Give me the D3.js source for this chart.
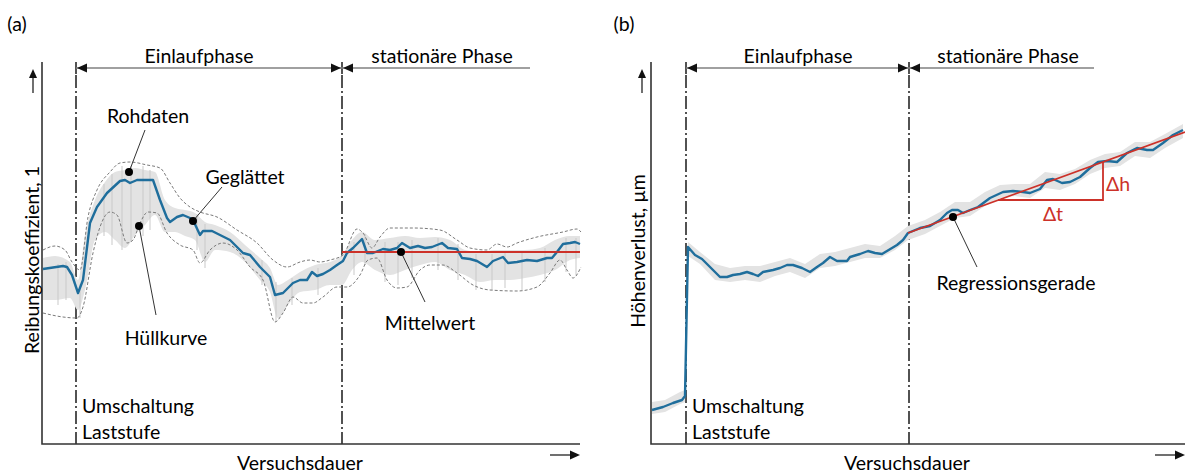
<!DOCTYPE html>
<html><head><meta charset="utf-8">
<script src="https://cdn.jsdelivr.net/npm/d3@7/dist/d3.min.js"></script>
<style>body{margin:0;background:#fff}svg text{font-family:Lato,"Open Sans",sans-serif;fill:#000}</style>
</head><body><svg id="c" width="1185" height="472"></svg>
<script>
// ---------- DATA (time t, value v) ----------
// Panel (a): friction coefficient
const frictionSmooth = [[0.1,1.75],[2.1,1.78],[2.5,1.77],[3.0,1.69],[3.6,1.51],[4.1,1.64],[4.8,2.21],[5.5,2.37],[6.5,2.51],[7.8,2.63],[8.3,2.64],[8.8,2.61],[9.5,2.64],[11.1,2.64],[11.8,2.44],[12.5,2.26],[12.8,2.22],[13.5,2.27],[14.1,2.29],[14.8,2.26],[15.1,2.24],[15.8,2.09],[16.1,2.13],[17.0,2.13],[18.8,2.04],[20.1,1.91],[20.8,1.89],[21.8,1.77],[22.8,1.67],[23.3,1.49],[24.1,1.51],[25.1,1.61],[25.8,1.64],[26.5,1.64],[27.0,1.72],[27.5,1.68],[28.1,1.70],[28.8,1.74],[29.5,1.79],[30.1,1.83],[30.5,1.91],[31.1,1.96],[32.0,2.05],[32.5,1.91],[33.1,1.91],[34.1,1.95],[34.8,1.94],[35.5,1.96],[36.0,2.01],[36.8,1.96],[37.6,1.98],[38.3,1.96],[39.0,1.97],[40.0,2.01],[40.6,1.96],[41.5,1.95],[42.0,1.86],[42.8,1.85],[43.5,1.83],[44.5,1.77],[45.1,1.83],[46.1,1.87],[46.6,1.81],[47.5,1.82],[48.5,1.84],[49.5,1.83],[50.5,1.86],[51.0,1.86],[51.5,1.92],[52.1,2.00],[52.8,2.01],[53.3,2.02],[53.8,2.00]];
const frictionUpper = [[0.1,1.94],[1.3,1.98],[2.3,1.94],[3.0,1.82],[3.8,1.74],[4.6,2.27],[5.5,2.54],[6.8,2.72],[7.8,2.81],[8.8,2.82],[10.5,2.79],[11.8,2.76],[12.8,2.61],[13.8,2.46],[14.8,2.37],[15.8,2.32],[17.5,2.27],[19.5,2.14],[21.5,2.01],[23.1,1.84],[24.5,1.77],[25.8,1.82],[26.8,1.84],[27.8,1.82],[28.8,1.84],[30.1,1.89],[31.5,2.15],[32.1,2.11],[33.0,1.96],[33.8,2.07],[34.8,2.16],[37.1,2.16],[39.8,2.14],[41.5,2.04],[42.8,1.96],[44.5,1.94],[45.5,2.00],[46.5,1.97],[47.5,2.01],[49.5,2.07],[52.1,2.12],[53.5,2.15],[53.9,2.12]];
const frictionLower = [[0.1,1.31],[2.1,1.27],[3.5,1.26],[4.1,1.37],[5.1,1.91],[5.8,2.17],[6.8,2.32],[7.5,2.29],[8.5,2.01],[9.1,2.04],[9.8,2.21],[10.6,2.32],[11.5,2.31],[12.5,2.11],[13.8,1.99],[15.1,1.94],[15.8,1.81],[16.8,1.94],[18.1,2.01],[19.5,1.94],[20.8,1.77],[22.1,1.64],[23.3,1.22],[24.1,1.31],[25.1,1.47],[26.1,1.41],[27.1,1.41],[28.1,1.47],[29.5,1.57],[30.5,1.57],[31.8,1.69],[32.6,1.84],[33.5,1.86],[34.5,1.64],[35.5,1.56],[36.5,1.57],[37.8,1.74],[38.8,1.79],[40.1,1.79],[41.5,1.71],[43.1,1.59],[44.8,1.54],[47.5,1.53],[49.5,1.57],[50.8,1.71],[51.8,1.84],[52.5,1.74],[53.1,1.66],[53.9,1.77]];
// raw data band [t, min, max]
const frictionRaw = [[0.1,1.44,1.86],[1.3,1.44,1.88],[2.8,1.46,1.82],[3.6,1.34,1.64],[4.3,1.54,2.09],[5.3,2.04,2.44],[6.3,2.12,2.62],[7.3,2.04,2.72],[8.3,1.96,2.74],[9.3,2.09,2.76],[10.3,2.19,2.74],[11.3,2.29,2.72],[12.3,2.12,2.44],[13.3,2.12,2.36],[14.3,2.08,2.34],[15.3,2.04,2.31],[16.3,1.82,2.22],[17.3,1.94,2.19],[18.8,1.92,2.12],[20.3,1.82,1.99],[21.8,1.64,1.86],[22.8,1.52,1.76],[23.6,1.26,1.59],[24.6,1.39,1.64],[25.8,1.52,1.72],[27.3,1.54,1.79],[28.8,1.59,1.82],[30.0,1.59,1.89],[31.0,1.74,2.04],[32.0,1.82,2.12],[33.3,1.74,2.04],[34.8,1.69,2.06],[36.3,1.74,2.08],[37.8,1.79,2.06],[39.3,1.82,2.07],[40.8,1.74,2.04],[42.3,1.69,1.94],[43.8,1.62,1.92],[45.3,1.64,1.94],[46.8,1.64,1.94],[48.3,1.66,1.94],[49.8,1.69,1.96],[51.3,1.74,2.04],[52.8,1.84,2.08],[53.8,1.86,2.08]];
// raw data spikes [t, min, max]
const frictionSpikes = [[1.6,1.39,1.80],[2.4,1.44,1.82],[3.8,1.26,1.60],[6.2,2.08,2.60],[7.0,1.99,2.70],[8.0,1.94,2.78],[8.9,2.02,2.78],[10.1,2.08,2.78],[10.8,2.14,2.74],[15.5,1.94,2.30],[16.3,1.76,2.20],[22.0,1.59,1.84],[23.4,1.22,1.62],[25.0,1.39,1.66],[27.6,1.49,1.76],[31.2,1.69,2.02],[32.3,1.79,2.10],[34.3,1.62,2.02],[35.6,1.59,2.02],[37.0,1.66,2.04],[39.6,1.74,2.06],[41.6,1.64,2.00],[43.4,1.54,1.90],[45.0,1.54,1.90],[46.3,1.56,1.92],[48.0,1.54,1.92],[50.3,1.62,1.96],[52.4,1.72,2.06],[53.4,1.69,2.06]];
const frictionMean = [[30.0,1.92],[53.8,1.92]];
const phasesA = [3.4, 30.0, 48.8];

// Panel (b): height loss
const wearSmooth = [[0.1,0.34],[1.2,0.37],[2.2,0.41],[3.1,0.44],[3.4,0.48],[3.7,1.97],[4.4,1.89],[5.1,1.85],[5.9,1.77],[6.9,1.67],[7.6,1.67],[8.2,1.69],[8.9,1.70],[9.6,1.72],[10.2,1.70],[10.7,1.68],[11.2,1.72],[12.2,1.74],[12.9,1.76],[13.6,1.79],[14.2,1.79],[15.1,1.76],[15.9,1.72],[16.6,1.77],[17.2,1.81],[17.9,1.87],[18.6,1.83],[19.6,1.83],[19.9,1.87],[20.9,1.90],[21.7,1.93],[22.4,1.91],[23.1,1.90],[23.6,1.93],[24.6,1.99],[25.2,2.04],[25.7,2.11],[26.9,2.16],[27.9,2.18],[28.9,2.24],[29.6,2.31],[30.1,2.34],[30.7,2.34],[31.2,2.31],[31.9,2.34],[32.7,2.37],[33.9,2.46],[35.2,2.52],[36.2,2.53],[37.2,2.52],[37.9,2.51],[38.9,2.55],[39.6,2.64],[40.2,2.65],[41.1,2.61],[41.9,2.62],[42.9,2.67],[43.9,2.76],[44.7,2.82],[45.6,2.83],[46.6,2.82],[47.6,2.91],[48.6,2.96],[49.6,2.94],[50.2,2.94],[51.2,3.01],[52.2,3.09],[53.2,3.14]];
const wearRaw = [[0.1,0.30,0.42],[1.4,0.32,0.44],[2.9,0.40,0.52],[3.4,0.42,0.54],[3.7,1.88,2.02],[4.9,1.80,1.92],[6.4,1.64,1.80],[7.9,1.62,1.76],[9.4,1.64,1.78],[10.9,1.62,1.78],[12.4,1.68,1.82],[13.9,1.72,1.86],[15.4,1.66,1.80],[16.9,1.76,1.90],[18.4,1.78,1.92],[19.9,1.82,1.96],[21.4,1.86,2.00],[22.9,1.86,1.98],[24.4,1.94,2.08],[25.7,2.04,2.18],[27.4,2.10,2.24],[28.9,2.18,2.32],[30.4,2.26,2.42],[31.9,2.28,2.42],[33.4,2.38,2.52],[34.9,2.46,2.59],[36.4,2.48,2.60],[37.9,2.46,2.60],[39.4,2.56,2.72],[40.9,2.54,2.70],[42.4,2.60,2.75],[43.9,2.70,2.84],[45.4,2.76,2.90],[46.9,2.78,2.92],[48.4,2.88,3.02],[49.9,2.86,3.02],[51.4,2.96,3.10],[53.2,3.06,3.20]];
const regressionLine = [[25.7,2.11],[53.4,3.12]];
const slopeTriangle = [[34.7,2.44],[45.2,2.44],[45.2,2.82]];
const phasesB = [3.5, 25.8, 44.3];

// Texts
const phaseLabels = ["Einlaufphase", "stationäre Phase"];
const switchLabels = ["Umschaltung", "Laststufe"];
const xTitle = "Versuchsdauer";
const yTitles = ["Reibungskoeffizient, 1", "Höhenverlust, µm"];
const panelLetters = ["(a)", "(b)"];
// annotations: dot [t,v], leader end [t,v], label centre [t,v]
const annotationsA = [
  {text:"Rohdaten", dot:[8.7,2.72], end:[10.3,3.14], label:[10.6,3.29]},
  {text:"Geglättet", dot:[15.1,2.23], end:[18.0,2.57], label:[20.3,2.68]},
  {text:"Hüllkurve", dot:[9.7,2.18], end:[11.4,1.29], label:[12.4,1.07]},
  {text:"Mittelwert", dot:[35.9,1.92], end:[38.3,1.42], label:[38.8,1.22]}
];
const annotationsB = [
  {text:"Regressionsgerade", dot:[30.2,2.27], end:[32.6,1.77], label:[36.5,1.62]}
];
const deltaLabels = [{text:"Δh", pos:[46.7,2.61]}, {text:"Δt", pos:[40.2,2.31]}];

// ---------- DRAWING ----------
const svg = d3.select("#c");
const FS = 19.5;
const blue = "#1f6e9c", red = "#cc3129", envGrey = "#7a7a7a";
const yScale = d3.scaleLinear().domain([0,4]).range([444,44]);
const xA = d3.scaleLinear().domain([0,54]).range([42,582]);
const xB = d3.scaleLinear().domain([0,54]).range([651,1191]);

function arrowHead(g, x, y, dir, len=10, half=4.5){
  let p;
  if(dir==="left") p=[[x,y],[x+len,y-half],[x+len,y+half]];
  else if(dir==="right") p=[[x,y],[x-len,y-half],[x-len,y+half]];
  else p=[[x,y],[x-half,y+len],[x+half,y+len]];
  g.append("path").attr("d","M"+p.join("L")+"Z").attr("fill","#111");
}

function drawFrame(x, idx, tEnd, phases, phaseCentres){
  const g = svg.append("g");
  const y = yScale;
  phases.slice(0,2).forEach(t=>{
    g.append("line").attr("x1",x(t)).attr("x2",x(t)).attr("y1",y(3.69)).attr("y2",y(0))
      .attr("stroke","#1a1a1a").attr("stroke-width",1.5).attr("stroke-dasharray","13,3,2,3");
    g.append("line").attr("x1",x(t)).attr("x2",x(t)).attr("y1",y(3.82)).attr("y2",y(3.70))
      .attr("stroke","#1a1a1a").attr("stroke-width",1.5);
  });
  g.append("line").attr("x1",x(phases[0])).attr("x2",x(phases[2])).attr("y1",y(3.76)).attr("y2",y(3.76))
    .attr("stroke","#808080").attr("stroke-width",1.5);
  arrowHead(g, x(phases[0])+1, y(3.76), "left");
  arrowHead(g, x(phases[1])-1, y(3.76), "right");
  arrowHead(g, x(phases[1])+1, y(3.76), "left");
  phaseLabels.forEach((s,i)=>{
    g.append("text").attr("x",x(phaseCentres[i])).attr("y",y(3.89)).attr("text-anchor","middle")
      .attr("dominant-baseline","central").attr("font-size",FS).text(s);
  });
  g.append("path").attr("d",`M${x(0)},${y(3.82)}V${y(0)}H${x(tEnd)}`).attr("fill","none")
    .attr("stroke","#333").attr("stroke-width",1.6);
  const ax = x(-0.9);
  g.append("line").attr("x1",ax).attr("x2",ax).attr("y1",y(3.51)).attr("y2",y(3.68)).attr("stroke","#111").attr("stroke-width",1.2);
  arrowHead(g, ax, y(3.75), "up", 9, 4);
  g.append("line").attr("x1",x(tEnd-3)).attr("x2",x(tEnd-0.8)).attr("y1",y(-0.11)).attr("y2",y(-0.11)).attr("stroke","#111").attr("stroke-width",1.2);
  arrowHead(g, x(tEnd), y(-0.11), "right", 10, 4.5);
  g.append("text").attr("x",x(tEnd/2-1.1)).attr("y",y(-0.18)).attr("text-anchor","middle")
    .attr("dominant-baseline","central").attr("font-size",FS).text(xTitle);
  g.append("text").attr("transform",`translate(${x(idx===0?-1.1:-1.4)},${y(idx===0?1.84:1.93)}) rotate(-90)`)
    .attr("text-anchor","middle").attr("dominant-baseline","central").attr("font-size",FS).text(yTitles[idx]);
  g.append("text").attr("x",x(idx===0?-2.5:-2.7)).attr("y",y(4.21)).attr("text-anchor","middle")
    .attr("dominant-baseline","central").attr("font-size",FS).text(panelLetters[idx]);
  switchLabels.forEach((s,i)=>{
    g.append("text").attr("x",x(phases[0]+0.6)).attr("y",y(i===0?0.39:0.13))
      .attr("dominant-baseline","central").attr("font-size",FS).text(s);
  });
}

function drawAnnotations(x, list){
  const y = yScale;
  list.forEach(a=>{
    svg.append("line").attr("x1",x(a.dot[0])).attr("y1",y(a.dot[1])).attr("x2",x(a.end[0])).attr("y2",y(a.end[1]))
      .attr("stroke","#333").attr("stroke-width",1);
    svg.append("circle").attr("cx",x(a.dot[0])).attr("cy",y(a.dot[1])).attr("r",4).attr("fill","#000");
    svg.append("text").attr("x",x(a.label[0])).attr("y",y(a.label[1])).attr("text-anchor","middle")
      .attr("dominant-baseline","central").attr("font-size",FS).text(a.text);
  });
}

// ----- Panel (a) -----
drawFrame(xA, 0, 53.8, phasesA, [15.7, 40.0]);
svg.append("path").datum(frictionRaw).attr("fill","#e3e3e3")
  .attr("d", d3.area().x(d=>xA(d[0])).y0(d=>yScale(d[1])).y1(d=>yScale(d[2])).curve(d3.curveMonotoneX));
svg.append("g").selectAll("line").data(frictionSpikes).join("line")
  .attr("x1",d=>xA(d[0])).attr("x2",d=>xA(d[0])).attr("y1",d=>yScale(d[1])).attr("y2",d=>yScale(d[2]))
  .attr("stroke","#c9c9c9").attr("stroke-width",1);
[frictionUpper, frictionLower].forEach(env=>{
  svg.append("path").datum(env).attr("fill","none").attr("stroke",envGrey).attr("stroke-width",1)
    .attr("stroke-dasharray","3,2")
    .attr("d", d3.line().x(d=>xA(d[0])).y(d=>yScale(d[1])).curve(d3.curveMonotoneX));
});
svg.append("path").datum(frictionMean).attr("fill","none").attr("stroke",red).attr("stroke-width",1.8)
  .attr("d", d3.line().x(d=>xA(d[0])).y(d=>yScale(d[1])));
svg.append("path").datum(frictionSmooth).attr("fill","none").attr("stroke",blue).attr("stroke-width",2.4)
  .attr("stroke-linejoin","round")
  .attr("d", d3.line().x(d=>xA(d[0])).y(d=>yScale(d[1])));
svg.append("path").datum(frictionMean).attr("fill","none").attr("stroke",red).attr("stroke-width",1.8).attr("opacity",0.85)
  .attr("d", d3.line().x(d=>xA(d[0])).y(d=>yScale(d[1])));
drawAnnotations(xA, annotationsA);

// ----- Panel (b) -----
drawFrame(xB, 1, 53.4, phasesB, [14.7, 35.7]);
svg.append("path").datum(wearRaw).attr("fill","#e3e3e3")
  .attr("d", d3.area().x(d=>xB(d[0])).y0(d=>yScale(d[1])).y1(d=>yScale(d[2])));
svg.append("path").datum(wearSmooth).attr("fill","none").attr("stroke",blue).attr("stroke-width",2.4)
  .attr("stroke-linejoin","round")
  .attr("d", d3.line().x(d=>xB(d[0])).y(d=>yScale(d[1])));
svg.append("path").datum(regressionLine).attr("fill","none").attr("stroke",red).attr("stroke-width",1.8)
  .attr("d", d3.line().x(d=>xB(d[0])).y(d=>yScale(d[1])));
svg.append("path").datum(slopeTriangle).attr("fill","none").attr("stroke",red).attr("stroke-width",1.8)
  .attr("d", d3.line().x(d=>xB(d[0])).y(d=>yScale(d[1])));
deltaLabels.forEach(l=>{
  svg.append("text").attr("x",xB(l.pos[0])).attr("y",yScale(l.pos[1])).attr("text-anchor","middle")
    .attr("dominant-baseline","central").attr("font-size",FS).style("fill",red).text(l.text);
});
drawAnnotations(xB, annotationsB);
</script></body></html>
